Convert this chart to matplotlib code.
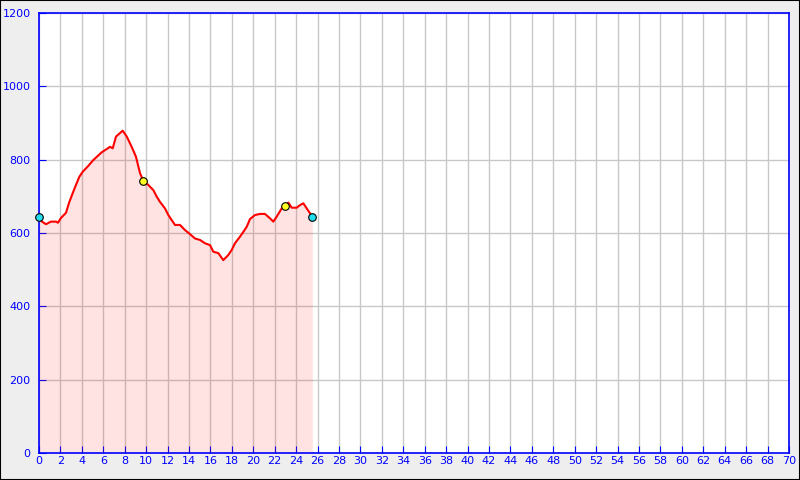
import matplotlib.pyplot as plt
from matplotlib.patches import Rectangle

# distance (km) and elevation (m)
km = [0.0, 0.28, 0.65, 1.12, 1.59, 1.77, 2.05, 2.52, 2.80, 3.15, 3.45, 3.76, 4.08,
      4.60, 5.07, 5.85, 6.63, 6.88, 7.19, 7.81, 8.19, 8.65, 9.05, 9.43, 9.73,
      10.20, 10.67, 10.99, 11.29, 11.76, 12.07, 12.39, 12.69, 13.16, 13.63, 14.09,
      14.56, 15.03, 15.49, 15.96, 16.27, 16.74, 17.20, 17.67, 17.99, 18.29, 18.76,
      19.07, 19.39, 19.69, 20.16, 20.63, 21.09, 21.56, 21.87, 22.19, 22.65, 22.96,
      23.27, 23.59, 24.05, 24.36, 24.67, 24.99, 25.29, 25.51]
elev = [643, 631, 624, 631, 631, 628, 641, 655, 682, 709, 731, 753, 767,
        783, 799, 820, 835, 831, 863, 879, 863, 835, 808, 763, 743,
        731, 717, 699, 685, 667, 649, 635, 622, 622, 608, 597,
        585, 581, 572, 567, 549, 545, 526, 540, 554, 572, 590,
        603, 617, 638, 649, 652, 652, 640, 631, 645, 667, 674,
        683, 669, 669, 676, 681, 667, 654, 644]

end_km = [0.0, 25.51]
end_elev = [643, 644]
mid_km = [9.73, 22.96]
mid_elev = [743, 674]

fig = plt.figure(figsize=(8, 4.8), dpi=100, facecolor="#eeeeee")
fig.patches.append(Rectangle((0, 0), 1, 1, transform=fig.transFigure,
                             fill=False, edgecolor="black", linewidth=1.5))
ax = fig.add_axes([0.04875, 0.05625, 0.9375, 0.91667])

ax.fill_between(km, elev, 0, color="red", alpha=0.11, linewidth=0, zorder=2)
ax.plot(km, elev, color="red", linewidth=1.5, zorder=3)
ax.scatter(end_km, end_elev, s=30, c="#22ddee", edgecolors="black",
           linewidths=0.8, zorder=4, clip_on=False)
ax.scatter(mid_km, mid_elev, s=30, c="#ffff22", edgecolors="black",
           linewidths=0.8, zorder=4, clip_on=False)

ax.set_xlim(0, 70)
ax.set_ylim(0, 1200)
ax.set_xticks(range(0, 71, 2))
ax.set_yticks(range(0, 1201, 200))
ax.grid(True, color="#c8c8c8", linewidth=1)
ax.set_axisbelow(True)
ax.tick_params(direction="in", length=5, color="blue", labelcolor="blue", labelsize=8)
ax.tick_params(axis="y", pad=6)
ax.tick_params(axis="x", pad=2)
for s in ax.spines.values():
    s.set_color("blue")
    s.set_linewidth(1.2)

fig.savefig("out.png", dpi=100, facecolor=fig.get_facecolor())
